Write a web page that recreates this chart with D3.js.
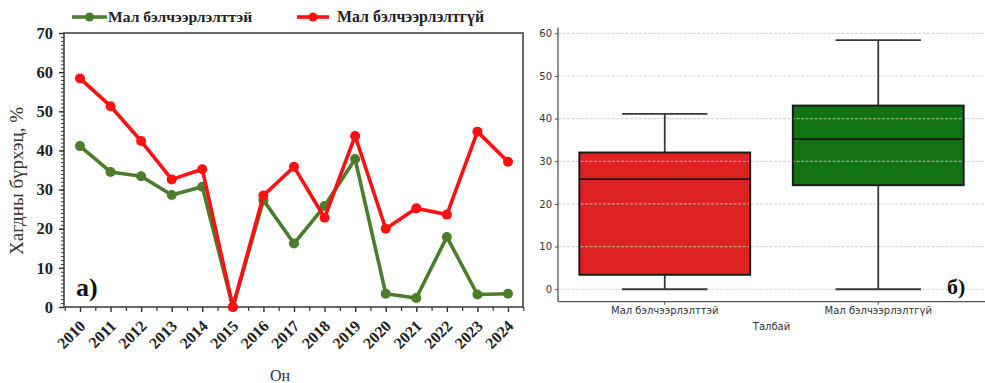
<!DOCTYPE html>
<html>
<head>
<meta charset="utf-8">
<script src="https://cdn.jsdelivr.net/npm/d3@7"></script>
<style>
  html, body { margin: 0; padding: 0; background: #fff; }
  svg { display: block; }
</style>
</head>
<body>
<svg id="chart" width="985" height="383"></svg>
<script>
// Annual litter cover (%) for the two site types
const years = [2010, 2011, 2012, 2013, 2014, 2015, 2016, 2017, 2018, 2019, 2020, 2021, 2022, 2023, 2024];
const grazed   = [41.1, 34.5, 33.4, 28.6, 30.7, 0, 27.3, 16.2, 25.8, 37.8, 3.4, 2.3, 17.9, 3.2, 3.4];
const ungrazed = [58.4, 51.3, 42.4, 32.6, 35.2, 0, 28.5, 35.8, 22.8, 43.7, 20.0, 25.2, 23.6, 44.8, 37.1];

const seriesNames = ["Мал бэлчээрлэлттэй", "Мал бэлчээрлэлтгүй"];
const yTicksLine = [0, 10, 20, 30, 40, 50, 60, 70];
const yTicksBox = [0, 10, 20, 30, 40, 50, 60];

const lineColors = ["#4a7d2c", "#ff1010"];
const boxColors = ["#de2121", "#117311"];

const svg = d3.select("#chart");

// ---------- panel a: line chart ----------
const xL = d3.scaleLinear().domain([2010, 2024]).range([80, 508]);
const yL = d3.scaleLinear().domain([0, 70]).range([307, 33]);
const pL = 64, pR = 523, pT = 33, pB = 307;

const gA = svg.append("g");

// frame
gA.append("rect")
  .attr("x", pL).attr("y", pT)
  .attr("width", pR - pL).attr("height", pB - pT)
  .attr("fill", "none").attr("stroke", "#444").attr("stroke-width", 1.6);

// y axis with minor ticks
const yAxisL = d3.axisLeft(yL).tickValues(yTicksLine).tickSize(5).tickPadding(6).tickFormat(d3.format("d"));
const gy = gA.append("g").attr("transform", `translate(${pL},0)`).call(yAxisL);
gy.select(".domain").remove();
gy.selectAll(".tick line").attr("stroke", "#333").attr("stroke-width", 1.4);
gy.selectAll(".tick text")
  .attr("font-family", "Liberation Serif, serif").attr("font-weight", "bold")
  .attr("font-size", 16.5).attr("fill", "#222");
gA.append("g").attr("transform", `translate(${pL},0)`)
  .call(d3.axisLeft(yL).tickValues(d3.range(0, 71, 1)).tickSize(3).tickFormat(""))
  .call(g => g.select(".domain").remove())
  .selectAll("line").attr("stroke", "#333").attr("stroke-width", 1);

// x axis with half-year minor ticks
const gx = gA.append("g").attr("transform", `translate(0,${pB})`)
  .call(d3.axisBottom(xL).tickValues(years).tickSize(5).tickFormat(d3.format("d")));
gx.select(".domain").remove();
gx.selectAll(".tick line").attr("stroke", "#333").attr("stroke-width", 1.4);
gx.selectAll(".tick text")
  .attr("font-family", "Liberation Serif, serif").attr("font-weight", "bold")
  .attr("font-size", 16).attr("fill", "#222")
  .attr("text-anchor", "end")
  .attr("dy", null).attr("y", null)
  .attr("transform", "translate(6,20) rotate(-45)");
gA.append("g").attr("transform", `translate(0,${pB})`)
  .call(d3.axisBottom(xL).tickValues(d3.range(2009.5, 2024.6, 1)).tickSize(4).tickFormat(""))
  .call(g => g.select(".domain").remove())
  .selectAll("line").attr("stroke", "#333").attr("stroke-width", 1.2);

// axis titles
gA.append("text")
  .attr("transform", "translate(23,181) rotate(-90)")
  .attr("text-anchor", "middle")
  .attr("font-family", "Liberation Serif, serif").attr("font-size", 19).attr("fill", "#333")
  .text("Хагдны бүрхэц, %");
gA.append("text")
  .attr("x", 280).attr("y", 381)
  .attr("text-anchor", "middle")
  .attr("font-family", "Liberation Serif, serif").attr("font-size", 16).attr("fill", "#333")
  .text("Он");

// panel tag
gA.append("text")
  .attr("x", 76).attr("y", 296)
  .attr("font-family", "Liberation Serif, serif").attr("font-weight", "bold")
  .attr("font-size", 26).attr("fill", "#111")
  .text("а)");

// lines and markers
const lineGen = d3.line().x((d, i) => xL(years[i])).y(d => yL(d));
[grazed, ungrazed].forEach((vals, k) => {
  gA.append("path").datum(vals)
    .attr("d", lineGen)
    .attr("fill", "none").attr("stroke", lineColors[k])
    .attr("stroke-width", 3.6).attr("stroke-linejoin", "round");
  gA.selectAll(null).data(vals).enter().append("circle")
    .attr("cx", (d, i) => xL(years[i])).attr("cy", d => yL(d))
    .attr("r", 5).attr("fill", lineColors[k]);
});

// legend
const legendX = [[72, 107], [297, 329]];
const legendTextX = [108, 337];
const legendFont = [15.6, 15.9];
seriesNames.forEach((name, k) => {
  const [x0, x1] = legendX[k];
  const g = svg.append("g");
  g.append("line").attr("x1", x0).attr("x2", x1).attr("y1", 17).attr("y2", 17)
    .attr("stroke", lineColors[k]).attr("stroke-width", 3.6);
  g.append("circle").attr("cx", (x0 + x1) / 2).attr("cy", 17).attr("r", 4.5).attr("fill", lineColors[k]);
  g.append("text")
    .attr("x", legendTextX[k]).attr("y", 22)
    .attr("font-family", "Liberation Serif, serif").attr("font-weight", "bold")
    .attr("font-size", legendFont[k]).attr("fill", "#222")
    .text(name);
});

// ---------- panel b: box plot ----------
// grazed values drawn red, ungrazed drawn green in this panel
const boxData = [grazed, ungrazed].map(v => {
  const s = v.slice().sort(d3.ascending);
  const q1 = d3.quantile(s, 0.25), med = d3.quantile(s, 0.5), q3 = d3.quantile(s, 0.75);
  const iqr = q3 - q1;
  const lo = d3.min(s.filter(x => x >= q1 - 1.5 * iqr));
  const hi = d3.max(s.filter(x => x <= q3 + 1.5 * iqr));
  return { q1, med, q3, lo, hi };
});
const allVals = grazed.concat(ungrazed);
const vmin = d3.min(allVals), vmax = d3.max(allVals);
const pad = (vmax - vmin) * 0.05;

const xB = d3.scaleBand().domain(seriesNames).range([558, 985]).padding(0);
const yB = d3.scaleLinear().domain([vmin - pad, vmax + pad]).range([301.7, 27.7]);
const bw = xB.bandwidth() * 0.8;
const cw = bw / 2;

const gB = svg.append("g");

// boxes
seriesNames.forEach((name, k) => {
  const b = boxData[k];
  const cx = xB(name) + xB.bandwidth() / 2;
  gB.append("rect")
    .attr("x", cx - bw / 2).attr("y", yB(b.q3))
    .attr("width", bw).attr("height", yB(b.q1) - yB(b.q3))
    .attr("fill", boxColors[k]);
});

// grid
gB.append("g").selectAll("line").data(yTicksBox).enter().append("line")
  .attr("x1", 558).attr("x2", 985)
  .attr("y1", d => yB(d)).attr("y2", d => yB(d))
  .attr("stroke", "#c8c8c8").attr("stroke-opacity", 0.7)
  .attr("stroke-width", 1.2).attr("stroke-dasharray", "3,1.5");

// whiskers, caps, medians, outlines
seriesNames.forEach((name, k) => {
  const b = boxData[k];
  const cx = xB(name) + xB.bandwidth() / 2;
  const g = gB.append("g").attr("stroke", "#3a3a3a").attr("stroke-width", 1.8);
  g.append("line").attr("x1", cx).attr("x2", cx).attr("y1", yB(b.q3)).attr("y2", yB(b.hi));
  g.append("line").attr("x1", cx).attr("x2", cx).attr("y1", yB(b.q1)).attr("y2", yB(b.lo));
  g.append("line").attr("x1", cx - cw / 2).attr("x2", cx + cw / 2).attr("y1", yB(b.hi)).attr("y2", yB(b.hi));
  g.append("line").attr("x1", cx - cw / 2).attr("x2", cx + cw / 2).attr("y1", yB(b.lo)).attr("y2", yB(b.lo));
  gB.append("rect")
    .attr("x", cx - bw / 2).attr("y", yB(b.q3))
    .attr("width", bw).attr("height", yB(b.q1) - yB(b.q3))
    .attr("fill", "none").attr("stroke", "#1a1a1a").attr("stroke-width", 2);
  gB.append("line")
    .attr("x1", cx - bw / 2).attr("x2", cx + bw / 2)
    .attr("y1", yB(b.med)).attr("y2", yB(b.med))
    .attr("stroke", "#1a1a1a").attr("stroke-width", 1.8);
});

// axes
const gyB = gB.append("g").attr("transform", "translate(558,0)")
  .call(d3.axisLeft(yB).tickValues(yTicksBox).tickSize(3).tickPadding(3).tickFormat(d3.format("d")));
gyB.select(".domain").attr("stroke", "#555").attr("stroke-width", 1.3).attr("d", `M0,${yB.range()[1]}V${yB.range()[0]}`);
gyB.selectAll(".tick line").attr("stroke", "#555");
gyB.selectAll(".tick text").attr("font-family", "DejaVu Sans, sans-serif").attr("font-size", 10).attr("fill", "#333");

const gxB = gB.append("g").attr("transform", "translate(0,301.7)")
  .call(d3.axisBottom(xB).tickSize(3).tickPadding(2));
gxB.select(".domain").attr("stroke", "#555").attr("stroke-width", 1.3).attr("d", "M558,0H985");
gxB.selectAll(".tick line").attr("stroke", "#555");
gxB.selectAll(".tick text").attr("font-family", "DejaVu Sans, sans-serif").attr("font-size", 10).attr("fill", "#333");

gB.append("text")
  .attr("x", 771.5).attr("y", 330)
  .attr("text-anchor", "middle")
  .attr("font-family", "DejaVu Sans, sans-serif").attr("font-size", 10).attr("fill", "#333")
  .text("Талбай");

gB.append("text")
  .attr("x", 947).attr("y", 294)
  .attr("font-family", "Liberation Serif, serif").attr("font-weight", "bold")
  .attr("font-size", 22).attr("fill", "#111")
  .text("б)");
</script>
</body>
</html>
